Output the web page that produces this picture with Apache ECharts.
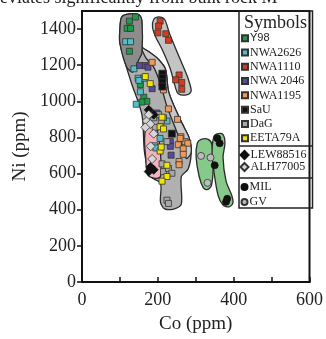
<!DOCTYPE html>
<html><head><meta charset="utf-8">
<script src="https://cdn.jsdelivr.net/npm/echarts@6/dist/echarts.min.js"></script>
<style>html,body{margin:0;padding:0;background:#fff}#c{width:326px;height:339px}</style>
</head><body><div id="c"></div>
<script>
// ---- data (Co ppm, Ni ppm) ----
const y98      = [[141,1467],[125,1444],[119,1404],[128,1404],[125,1277],[163,1023],[171,1000],[158,996],[154,1093]];
const nwa2626  = [[115,1330],[128,1330],[137,1180],[148,1128],[163,1128],[150,1116],[154,1053],[143,984],[192,754],[206,795],[224,891],[195,742]];
const nwa1110  = [[206,1444],[202,1417],[200,1379],[221,1374],[228,1338],[256,1146],[247,1119],[263,1105],[263,1067]];
const nwa2046  = [[152,1198],[167,1198],[174,1189],[185,1070],[198,935],[233,777],[233,751],[235,702]];
const nwa1195  = [[185,1216],[215,1063],[228,958],[215,909],[252,900],[261,804],[272,777],[279,768],[259,795],[254,760],[267,737],[267,707],[256,667],[256,649]];
const sau      = [[212,1153],[212,1130],[212,1105],[212,1082],[237,821]];
const dag      = [[202,926],[189,909],[209,891],[193,856],[224,777],[211,654],[215,611],[228,628],[237,602],[224,453],[228,435]];
const eeta79a  = [[167,1137],[180,1098],[211,912],[206,859],[215,847],[206,725],[209,747],[224,646],[224,584],[211,558]];
const lew88516 = [[176,953],[189,926],[181,637],[189,621],[176,611]];
const alh77005 = [[181,751],[185,681],[171,891],[180,874],[167,856],[176,926],[189,821]];
const mil      = [[357,795],[363,768],[350,646],[383,461],[380,444]];
const gv       = [[314,698],[339,689],[331,549]];
const xTickLabels = [0, 200, 400, 600];

// envelopes (Co, Ni vertices)
const envMain  = [[100,1400],[105,1468],[126,1484],[150,1479],[158,1442],[158,1305],[181,1268],[202,1232],[220,1179],[228,1058],[244,968],[265,874],[283,795],[288,716],[280,626],[262,584],[262,432],[244,405],[218,405],[207,442],[207,547],[181,584],[165,716],[158,926],[129,1110],[100,1321]];
const envBand  = [[158,1295],[181,1268],[202,1232],[220,1179],[228,1058],[244,968],[265,874],[283,795],[288,716],[275,684],[262,768],[244,863],[223,979],[207,1095],[189,1189],[168,1242]];
const envLobe  = [[100,1400],[105,1468],[126,1484],[150,1479],[158,1442],[158,1268],[150,1232],[134,1163],[118,1189],[100,1321]];
const envRed   = [[189,1453],[202,1468],[218,1453],[231,1374],[257,1242],[278,1137],[288,1058],[278,1037],[254,1042],[244,1095],[233,1179],[212,1284],[194,1358],[186,1410]];
const envPink  = [[171,858],[194,858],[202,795],[207,716],[207,584],[192,574],[173,595],[168,689],[165,795]];
const envGV    = [[304,768],[314,789],[333,789],[343,758],[346,637],[341,532],[330,511],[320,521],[309,584],[301,689]];
const envMIL   = [[348,805],[359,821],[372,816],[377,768],[372,689],[380,558],[395,479],[398,437],[388,416],[372,426],[359,479],[348,611],[343,716]];

const serif = 'Liberation Serif';
const chart = echarts.init(document.getElementById('c'));

function env(pts, fill) {
  return {
    type: 'custom', coordinateSystem: 'cartesian2d', silent: true, z: 1,
    data: [pts[0]],
    renderItem: (p, api) => ({
      type: 'polygon',
      shape: { points: pts.map(q => api.coord(q)), smooth: 0.3 },
      style: { fill: fill, stroke: '#2a2a2a', lineWidth: 1.3 }
    })
  };
}
function sc(name, data, color, symbol, size, border) {
  return {
    type: 'scatter', name: name, data: data, symbol: symbol, symbolSize: size, z: 5,
    itemStyle: { color: color, borderColor: border || '#333', borderWidth: 0.8, opacity: 1 }
  };
}

const legText = { fontFamily: serif, fontSize: 12, color: '#222', padding: [0,0,0,-3],
  rich: { s: { fontFamily: 'Liberation Sans', fontSize: 11, color: '#222' } } };

chart.setOption({
  animation: false,
  grid: { left: 82, right: 13.5, top: 11, bottom: 43, show: true, borderColor: '#111', borderWidth: 2 },
  xAxis: {
    type: 'value', min: 0, max: 600, interval: 100,
    axisLine: { show: true, lineStyle: { color: '#111', width: 2 } },
    axisTick: { show: true, inside: true, length: 5, lineStyle: { color: '#111', width: 1.5 } },
    axisLabel: { fontFamily: serif, fontSize: 18, color: '#222', margin: 9,
      formatter: v => xTickLabels.indexOf(v) >= 0 ? String(v) : '' },
    splitLine: { show: false },
    name: 'Co (ppm)', nameLocation: 'middle', nameGap: 33,
    nameTextStyle: { fontFamily: serif, fontSize: 19, color: '#222' }
  },
  yAxis: {
    type: 'value', min: 0, max: 1500, interval: 200,
    axisLine: { show: true, lineStyle: { color: '#111', width: 2 } },
    axisTick: { show: true, inside: false, length: 5, lineStyle: { color: '#111', width: 1.5 } },
    axisLabel: { fontFamily: serif, fontSize: 18, color: '#222', margin: 6, showMaxLabel: false,
      formatter: v => String(v) },
    splitLine: { show: false },
    name: 'Ni (ppm)', nameLocation: 'middle', nameGap: 42,
    nameTextStyle: { fontFamily: serif, fontSize: 19, color: '#222' }
  },
  legend: [
    { data: ['Y98','NWA2626','NWA1110','NWA 2046','NWA1195','SaU','DaG','EETA79A'],
      orient: 'vertical', left: 241, top: 31, padding: 0, itemGap: 0, itemWidth: 6, itemHeight: 6,
      textStyle: Object.assign({ lineHeight: 14.3 }, legText),
      formatter: n => n === 'Y98' ? '{s|Y98}' : n },
    { data: ['LEW88516','ALH77005'],
      orient: 'vertical', left: 239.5, top: 149, padding: 0, itemGap: 0, itemWidth: 8, itemHeight: 8,
      textStyle: Object.assign({ lineHeight: 12 }, legText) },
    { data: ['MIL','GV'],
      orient: 'vertical', left: 240.5, top: 179.5, padding: 0, itemGap: 0, itemWidth: 6, itemHeight: 6,
      textStyle: Object.assign({ lineHeight: 15 }, legText) }
  ],
  graphic: [
    { type: 'text', left: -9, top: -11, silent: true,
      style: { text: 'deviates significantly from bulk rock M', font: '18px "Liberation Serif"', fill: '#222' } },
    { type: 'rect', shape: { x: 239, y: 11, width: 73.5, height: 197 }, z: 10, silent: true,
      style: { fill: 'rgba(0,0,0,0)', stroke: '#222', lineWidth: 1.5 } },
    { type: 'line', shape: { x1: 239, y1: 146, x2: 312.5, y2: 146 }, z: 10, silent: true, style: { stroke: '#222', lineWidth: 1.5 } },
    { type: 'line', shape: { x1: 239, y1: 178, x2: 312.5, y2: 178 }, z: 10, silent: true, style: { stroke: '#222', lineWidth: 1.5 } },
    { type: 'text', x: 275.5, y: 23, z: 10, silent: true,
      style: { text: 'Symbols', font: '18px "Liberation Serif"', fill: '#222', align: 'center', verticalAlign: 'middle' } }
  ],
  series: [
    env(envMain, '#b0b0b0'),
    env(envBand, '#c8c8c8'),
    env(envLobe, '#8c8c8c'),
    env(envRed, '#c4c4c4'),
    env(envPink, '#f2b3bd'),
    env(envGV, '#86c98a'),
    env(envMIL, '#86c98a'),
    sc('Y98', y98, '#1e9a48', 'rect', 6),
    sc('NWA2626', nwa2626, '#52c0c8', 'rect', 6),
    sc('NWA1110', nwa1110, '#d63c1c', 'rect', 6),
    sc('NWA 2046', nwa2046, '#5a4a9c', 'rect', 6),
    sc('NWA1195', nwa1195, '#f09a5a', 'rect', 6),
    sc('SaU', sau, '#111111', 'rect', 7),
    sc('DaG', dag, '#a8a8a8', 'rect', 6),
    sc('EETA79A', eeta79a, '#f2e400', 'rect', 6),
    sc('LEW88516', lew88516, '#111111', 'diamond', 9, '#111'),
    sc('ALH77005', alh77005, '#d6d6d6', 'diamond', 9, '#333'),
    sc('MIL', mil, '#111111', 'circle', 7, '#111'),
    sc('GV', gv, '#bcbcbc', 'circle', 7, '#333')
  ]
});
</script></body></html>
